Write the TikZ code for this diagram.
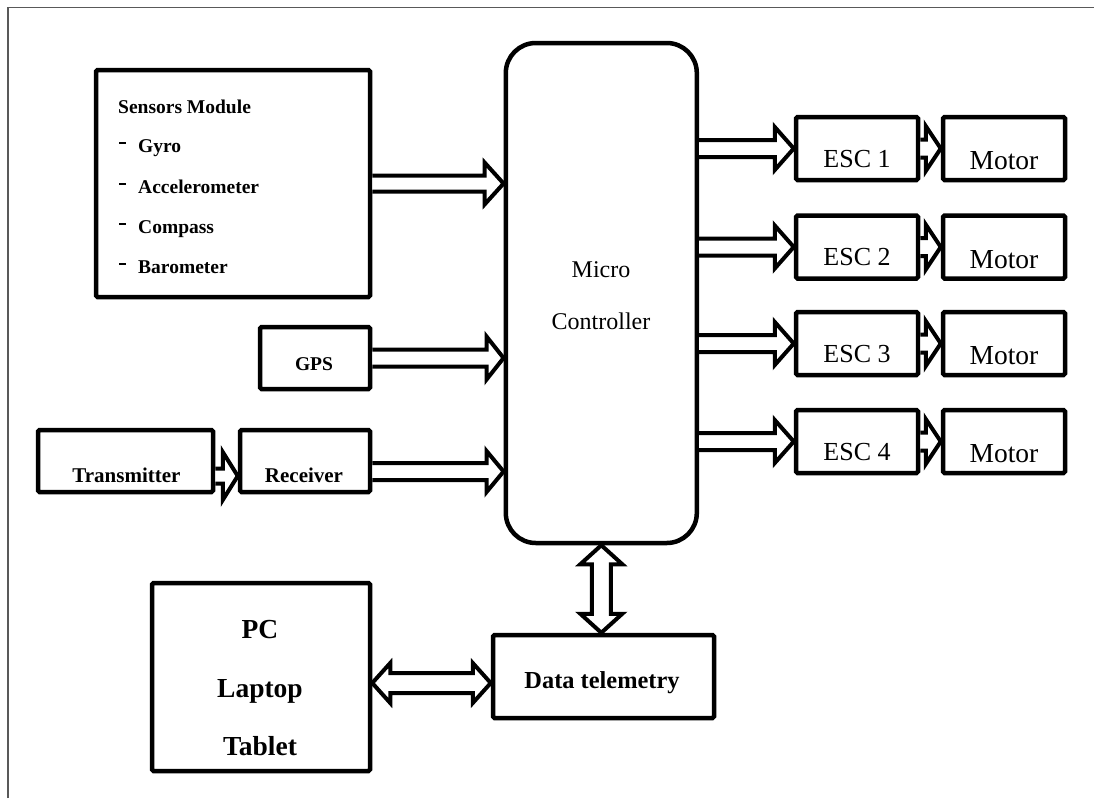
\documentclass[tikz,border=0pt]{standalone}
\usepackage{fontspec}
\setmainfont{Liberation Serif}
\usetikzlibrary{calc}

% hollow block arrow pointing right: #1 start (gives y), #2 end (gives x),
% #3 half shaft width, #4 head length, #5 half head width
\newcommand\rblockarrow[5]{%
  \filldraw[blockarrow] let \p1=(#1), \p2=(#2) in
    (\x1,{\y1+#3}) -- ({\x2-#4},{\y1+#3}) -- ({\x2-#4},{\y1+#5}) -- (\x2,\y1)
    -- ({\x2-#4},{\y1-#5}) -- ({\x2-#4},{\y1-#3}) -- (\x1,{\y1-#3});}
% hollow double-headed horizontal arrow
\newcommand\hdblockarrow[5]{%
  \filldraw[blockarrow] let \p1=(#1), \p2=(#2) in
    (\x1,\y1) -- ({\x1+#4},{\y1+#5}) -- ({\x1+#4},{\y1+#3}) -- ({\x2-#4},{\y1+#3})
    -- ({\x2-#4},{\y1+#5}) -- (\x2,\y1) -- ({\x2-#4},{\y1-#5}) -- ({\x2-#4},{\y1-#3})
    -- ({\x1+#4},{\y1-#3}) -- ({\x1+#4},{\y1-#5}) -- cycle;}
% hollow double-headed vertical arrow (#1 top, #2 bottom)
\newcommand\vdblockarrow[5]{%
  \filldraw[blockarrow] let \p1=(#1), \p2=(#2) in
    (\x1,\y1) -- ({\x1+#5},{\y1-#4}) -- ({\x1+#3},{\y1-#4}) -- ({\x1+#3},{\y2+#4})
    -- ({\x1+#5},{\y2+#4}) -- (\x1,\y2) -- ({\x1-#5},{\y2+#4}) -- ({\x1-#3},{\y2+#4})
    -- ({\x1-#3},{\y1-#4}) -- ({\x1-#5},{\y1-#4}) -- cycle;}

\tikzset{
  frameline/.style={line width=1.5pt, black!65},
  box/.style={draw, line width=4.5pt, rounded corners=1.5pt, inner sep=0pt, outer sep=2.25pt},
  blockarrow/.style={draw, fill=white, line width=4pt, line join=miter},
  txt/.style={inner sep=0pt, anchor=base},
  sensfont/.style={txt, anchor=base west, font=\bfseries\fontsize{19.5}{23}\selectfont},
  gpsfont/.style={txt, font=\bfseries\fontsize{19.5}{23}\selectfont},
  linkfont/.style={txt, font=\bfseries\fontsize{21}{25}\selectfont},
  pcfont/.style={txt, font=\bfseries\fontsize{27.5}{32}\selectfont},
  datafont/.style={txt, font=\bfseries\fontsize{24.4}{29}\selectfont},
  mcfont/.style={txt, font=\fontsize{24}{29}\selectfont},
  escfont/.style={txt, font=\fontsize{26}{31}\selectfont},
  motfont/.style={txt, font=\fontsize{27.5}{32}\selectfont},
}
% list entry with a raised dash in front
\newcommand\senitem[1]{\makebox[19pt][l]{\raisebox{8.5pt}{\rule{6.5pt}{2pt}}}#1}

\begin{document}
\begin{tikzpicture}[x=1pt,y=-1pt]
\useasboundingbox (0,0) rectangle (1094,798);
\draw[frameline] (8,798) -- (8,7.5) -- (1094,7.5);

% blocks
\node[box, minimum width=274pt, minimum height=227pt] (sens) at (233,183.5) {};
\node[box, minimum width=191pt, minimum height=500pt, rounded corners=30pt] (micro) at (601.3,293) {};
\node[box, minimum width=110pt, minimum height=62pt] (gps) at (315,358) {};
\node[box, minimum width=175pt, minimum height=62pt] (tx) at (125.5,461) {};
\node[box, minimum width=130pt, minimum height=62pt] (rx) at (305,461) {};
\node[box, minimum width=218pt, minimum height=188pt] (pc) at (261,677) {};
\node[box, minimum width=221pt, minimum height=83pt] (data) at (603.5,676.5) {};

% sensor list
\node[sensfont] (senst) at (118,113) {Sensors Module};
\node[sensfont] (gyro) at (119,152) {\senitem{Gyro}};
\node[sensfont] (accel) at (119,193) {\senitem{Accelerometer}};
\node[sensfont] (comp) at (119,233) {\senitem{Compass}};
\node[sensfont] (baro) at (119,273) {\senitem{Barometer}};

% other labels
\node[mcfont] (mc1) at (601,277) {Micro};
\node[mcfont] (mc2) at (601,329) {Controller};
\node[gpsfont] (gpst) at (314,370) {GPS};
\node[linkfont] (txt) at (126.5,482) {Transmitter};
\node[linkfont] (rxt) at (304,482) {Receiver};
\node[pcfont] (pct) at (260,638) {PC};
\node[pcfont] (lapt) at (260,697) {Laptop};
\node[pcfont] (tabt) at (260,755) {Tablet};
\node[datafont] (datat) at (602,688) {Data telemetry};

% speed controllers and motors
\foreach \i/\y in {1/148.5,2/247,3/343.5,4/441.5} {
  \node[box, minimum width=122pt, minimum height=63pt] (esc\i) at (857,\y) {};
  \node[box, minimum width=122pt, minimum height=63pt] (mot\i) at (1004,\y) {};
  \node[escfont] (esct\i) at ([yshift=-18.5pt]esc\i.center) {ESC \i};
  \begin{scope}
    \clip (mot\i.north west) rectangle ([yshift=-21pt]mot\i.east);
    \node[motfont] (mott\i) at ([yshift=-21pt]mot\i.center) {Motor};
  \end{scope}
  \rblockarrow{micro.east |- esc\i.center}{esc\i.west}{8.5pt}{19pt}{21.5pt}
  \rblockarrow{esc\i.east}{mot\i.west}{9pt}{15pt}{22.5pt}
}

% signal paths
\rblockarrow{sens.east}{micro.west}{8pt}{19pt}{21pt}
\rblockarrow{gps.east}{micro.west}{8.5pt}{17pt}{21.5pt}
\rblockarrow{$(tx.east)+(0,15)$}{rx.west}{7.5pt}{15pt}{24pt}
\rblockarrow{$(rx.east)+(0,10.5)$}{micro.west}{8.5pt}{17pt}{20.5pt}
\vdblockarrow{micro.south}{data.north}{9.5pt}{19pt}{21pt}
\hdblockarrow{$(pc.east)+(0,6)$}{data.west}{10pt}{18pt}{20pt}
\end{tikzpicture}
\end{document}
